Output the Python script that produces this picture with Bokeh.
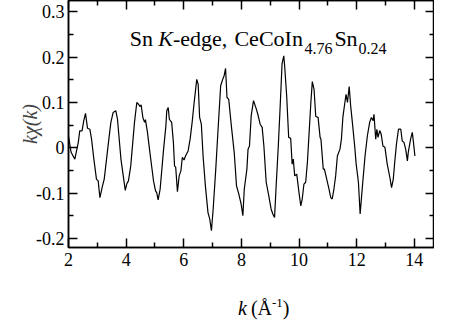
from bokeh.plotting import figure
from bokeh.models import FixedTicker, LinearAxis, Label, Range1d, Div
from bokeh.layouts import column
from bokeh.embed import file_html
from bokeh.resources import INLINE

# ---- data ----
k = [2.00, 2.09, 2.22, 2.34, 2.39, 2.47, 2.53, 2.59, 2.66, 2.74, 2.80, 2.88, 2.97, 3.03,
     3.09, 3.18, 3.24, 3.32, 3.40, 3.47, 3.55, 3.64, 3.70, 3.75, 3.82, 3.90, 3.97, 4.02,
     4.08, 4.16, 4.23, 4.29, 4.37, 4.43, 4.49, 4.52, 4.58, 4.64, 4.67, 4.74, 4.81, 4.89,
     4.95, 5.02, 5.06, 5.11, 5.18, 5.24, 5.30, 5.38, 5.41, 5.46, 5.50, 5.58, 5.64, 5.68,
     5.72, 5.78, 5.84, 5.90, 5.95, 6.01, 6.06, 6.15, 6.22, 6.29, 6.36, 6.45, 6.50, 6.55,
     6.61, 6.67, 6.75, 6.84, 6.90, 6.96, 7.02, 7.11, 7.19, 7.28, 7.35, 7.40, 7.45, 7.50,
     7.56, 7.65, 7.75, 7.83, 7.91, 7.99, 8.05, 8.10, 8.19, 8.23, 8.28, 8.34, 8.42, 8.51,
     8.57, 8.65, 8.72, 8.78, 8.86, 8.95, 9.03, 9.09, 9.15, 9.20, 9.28, 9.34, 9.41, 9.47,
     9.50, 9.57, 9.64, 9.71, 9.76, 9.80, 9.85, 9.92, 9.99, 10.06, 10.11, 10.17, 10.23,
     10.29, 10.35, 10.41, 10.46, 10.52, 10.58, 10.66, 10.73, 10.76, 10.84, 10.88, 10.96,
     11.04, 11.10, 11.15, 11.21, 11.27, 11.33, 11.42, 11.47, 11.52, 11.59, 11.63, 11.68,
     11.74, 11.79, 11.85, 11.93, 11.98, 12.06, 12.12, 12.20, 12.29, 12.37, 12.45, 12.51,
     12.57, 12.60, 12.66, 12.70, 12.74, 12.80, 12.85, 12.91, 12.98, 13.06, 13.15, 13.21,
     13.27, 13.32, 13.38, 13.45, 13.53, 13.58, 13.64, 13.70, 13.76, 13.79, 13.87, 13.93,
     13.97, 14.02]
chi = [0.025, -0.010, -0.025, 0.012, 0.0375, 0.0375, 0.060, 0.076, 0.043, 0.041, 0.019,
       -0.025, -0.069, -0.073, -0.110, -0.084, -0.069, -0.025, 0.019, 0.056, 0.078, 0.082,
       0.063, 0.026, -0.025, -0.062, -0.094, -0.080, -0.073, -0.040, 0.012, 0.056, 0.100,
       0.096, 0.091, 0.095, 0.067, 0.056, 0.062, 0.034, -0.003, -0.043, -0.073, -0.095,
       -0.099, -0.115, -0.091, -0.047, -0.003, 0.049, 0.082, 0.089, 0.063, 0.056, 0.012,
       -0.040, -0.043, -0.097, -0.062, -0.051, -0.021, -0.027, -0.018, -0.007, 0.019, 0.056,
       0.100, 0.151, 0.140, 0.067, 0.052, -0.018, -0.084, -0.143, -0.157, -0.183, -0.135,
       -0.047, 0.041, 0.137, 0.151, 0.159, 0.175, 0.111, 0.107, 0.049, -0.010, -0.084,
       -0.102, -0.124, -0.150, -0.091, -0.047, -0.003, 0.004, 0.071, 0.104, 0.087, 0.074,
       0.052, 0.045, 0.004, -0.076, -0.106, -0.135, -0.146, -0.154, -0.091, 0.004, 0.085,
       0.185, 0.203, 0.181, 0.115, 0.023, 0.021, -0.036, -0.025, -0.062, -0.058, -0.095,
       -0.128, -0.113, -0.080, -0.076, -0.032, 0.034, 0.100, 0.146, 0.129, 0.069, 0.067,
       0.023, 0.019, -0.047, -0.047, -0.069, -0.091, -0.110, -0.113, -0.091, -0.062, -0.018,
       -0.003, 0.019, 0.067, 0.100, 0.118, 0.100, 0.135, 0.093, 0.056, 0.004, -0.035,
       -0.076, -0.146, -0.084, -0.018, 0.026, 0.056, 0.067, 0.060, 0.074, 0.019, 0.041,
       0.023, 0.038, 0.030, 0.004, 0.001, -0.036, -0.065, -0.088, -0.069, -0.032, 0.008,
       0.041, 0.041, 0.015, 0.012, -0.003, -0.029, -0.010, 0.019, 0.034, 0.012, -0.018]

x_ticks = [2, 4, 6, 8, 10, 12, 14]
x_minor = [3, 5, 7, 9, 11, 13]
y_ticks = [-0.2, -0.1, 0.0, 0.1, 0.2, 0.3]
y_tick_labels = ["-0.2", "-0.1", "0", "0.1", "0.2", "0.3"]
y_minor = [-0.15, -0.05, 0.05, 0.15, 0.25]
title_parts = ["Sn", "K", "-edge,", "CeCoIn", "4.76", "Sn", "0.24"]
ylabel = "kχ(k)"
xlabel_html = "<i>k</i>&thinsp;(Å<sup>-1</sup>)"

FONT = "Liberation Serif"

p = figure(width=434, height=272, x_range=Range1d(2, 14.7), y_range=Range1d(-0.22, 0.325),
           output_backend="svg", toolbar_location=None,
           min_border_left=68, min_border_right=0, min_border_top=0, min_border_bottom=25)
p.grid.visible = False
p.outline_line_color = "black"
p.outline_line_width = 1.5
p.background_fill_color = "white"
p.border_fill_color = "white"

p.line(k, chi, line_color="black", line_width=1.2)


def style_axis(ax, ticks, minor, show):
    ax.ticker = FixedTicker(ticks=ticks, minor_ticks=minor)
    ax.major_tick_in = 9
    ax.major_tick_out = 0
    ax.minor_tick_in = 5
    ax.minor_tick_out = 0
    ax.major_tick_line_width = 1.5
    ax.minor_tick_line_width = 1.5
    ax.axis_line_width = 1.5
    ax.axis_line_color = "black"
    ax.major_tick_line_color = "black"
    ax.minor_tick_line_color = "black"
    if show:
        ax.major_label_text_font = FONT
        ax.major_label_text_font_size = "18px"
        ax.major_label_text_color = "black"
    else:
        ax.major_label_text_font_size = "1px"
        ax.major_label_text_color = None
        ax.major_label_standoff = 0


xb = p.xaxis[0]
yl = p.yaxis[0]
style_axis(xb, x_ticks, x_minor, True)
style_axis(yl, y_ticks, y_minor, True)
xb.major_label_standoff = 5
yl.major_label_standoff = 4
yl.major_label_overrides = dict(zip(y_ticks, y_tick_labels))
yl.axis_label = ylabel
yl.axis_label_text_font = FONT
yl.axis_label_text_font_size = "20px"
yl.axis_label_text_font_style = "italic"
yl.axis_label_standoff = -8

top = LinearAxis()
style_axis(top, x_ticks, x_minor, False)
p.add_layout(top, "above")
right = LinearAxis()
style_axis(right, y_ticks, y_minor, False)
p.add_layout(right, "right")

# Title inside the plot (normal, italic, normal, normal, subscript, normal, subscript)
title_x = [4.126, 5.111, 5.625, 7.758, 10.186, 11.226, 12.059]
title_y = [0.2411, 0.2411, 0.2411, 0.2411, 0.2201, 0.2411, 0.2201]
title_size = ["22px", "22px", "22px", "22px", "16px", "22px", "16px"]
title_style = ["normal", "italic", "normal", "normal", "normal", "normal", "normal"]
for t, x, y, s, st in zip(title_parts, title_x, title_y, title_size, title_style):
    p.add_layout(Label(x=x, y=y, text=t, text_font=FONT, text_font_size=s,
                       text_font_style=st, text_color="black",
                       text_baseline="alphabetic", text_align="left"))

xlabel = Div(
    text=('<div style="margin-left:238px; padding-top:26px; font-family:\'Liberation Serif\','
          ' \'Times New Roman\', serif; font-size:20px; line-height:10px; color:black;'
          ' white-space:nowrap;">' + xlabel_html.replace("<sup>", '<sup style="font-size:13px">')
          + '</div>'),
    width=434, height=35, margin=(0, 0, 0, 0))

layout = column(p, xlabel, spacing=0)
open("out.html", "w").write(file_html(layout, INLINE))
